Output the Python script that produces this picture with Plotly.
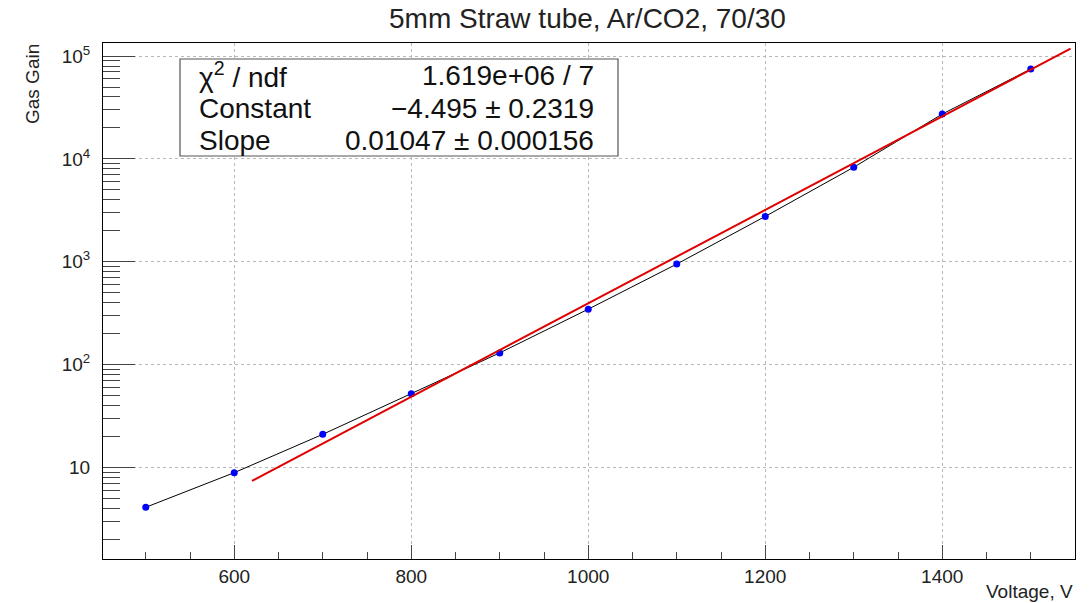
import plotly.graph_objects as go

# ---- data ----
voltage = [500, 600, 700, 800, 900, 1000, 1100, 1200, 1300, 1400, 1500]
gain = [4.1, 8.9, 21, 52, 130, 346, 950, 2760, 8300, 27300, 74800]

fit_x = [620, 1545]
fit_y = [7.4, 118000]

title = "5mm Straw tube, Ar/CO2, 70/30"
x_title = "Voltage, V"
y_title = "Gas Gain"

x_ticks = [600, 800, 1000, 1200, 1400]
y_tickvals = [10, 100, 1000, 10000, 100000]
y_ticktext = ["10", "10<sup>2</sup>", "10<sup>3</sup>", "10<sup>4</sup>", "10<sup>5</sup>"]
y_minor = [m * 10 ** d for d in range(0, 6) for m in range(2, 10)]

stat_labels = ["χ<sup>2</sup> / ndf", "Constant", "Slope"]
stat_values = ["1.619e+06 / 7", "−4.495 ± 0.2319", "0.01047 ± 0.000156"]

FONT = "Liberation Sans, Arial, Helvetica, sans-serif"

# ---- layout geometry (pixels) ----
W, H = 1090, 603
L, R, T, B = 103, 1075, 43, 559


def px(x):
    return (x - L) / (R - L)


def py(y):
    return (B - y) / (B - T)


fig = go.Figure()
fig.add_trace(go.Scatter(
    x=voltage, y=gain, mode="lines+markers",
    line=dict(color="black", width=1),
    marker=dict(color="#0000ff", size=7),
    showlegend=False, hoverinfo="x+y"))
fig.add_trace(go.Scatter(
    x=fit_x, y=fit_y, mode="lines",
    line=dict(color="#e00000", width=2),
    showlegend=False))

axis_common = dict(
    showline=True, linecolor="black", linewidth=1, mirror=True,
    ticks="inside", tickcolor="#444", tickwidth=1,
    showgrid=True, gridcolor="#b8b8b8", griddash="dot", gridwidth=1,
    zeroline=False,
    tickfont=dict(family=FONT, size=19, color="#222"),
)

fig.update_layout(
    width=W, height=H,
    margin=dict(l=L, r=W - R, t=T, b=H - B),
    paper_bgcolor="white", plot_bgcolor="white",
    font=dict(family=FONT, color="#222"),
    xaxis=dict(
        axis_common, range=[451.7, 1550],
        tickmode="array", tickvals=x_ticks, ticklen=14,
        minor=dict(dtick=50, tick0=0, ticks="inside", ticklen=7, tickcolor="#444", showgrid=False),
    ),
    yaxis=dict(
        axis_common, type="log", range=[0.11, 5.127],
        tickmode="array", tickvals=y_tickvals, ticktext=y_ticktext, ticklen=32,
        ticklabelstandoff=8,
        minor=dict(tickmode="array", tickvals=y_minor, ticks="inside", ticklen=17, tickcolor="#444", showgrid=False),
    ),
)

ann = []
# title
ann.append(dict(text=title, x=px(587), y=py(19), xref="paper", yref="paper",
                showarrow=False, xanchor="center", yanchor="middle",
                font=dict(family=FONT, size=28, color="#222")))
# axis titles
ann.append(dict(text=x_title, x=px(1075), y=py(591), xref="paper", yref="paper",
                showarrow=False, xanchor="right", yanchor="middle",
                font=dict(family=FONT, size=19, color="#222")))
ann.append(dict(text=y_title, x=px(32), y=py(84), xref="paper", yref="paper",
                showarrow=False, xanchor="center", yanchor="middle", textangle=-90,
                font=dict(family=FONT, size=19, color="#222")))
# stats box
row_y = [75, 108, 140]
for lab, val, ry in zip(stat_labels, stat_values, row_y):
    ann.append(dict(text=lab, x=px(197), y=py(ry), xref="paper", yref="paper",
                    showarrow=False, xanchor="left", yanchor="middle",
                    font=dict(family=FONT, size=28, color="#111")))
    ann.append(dict(text=val, x=px(596), y=py(ry), xref="paper", yref="paper",
                    showarrow=False, xanchor="right", yanchor="middle",
                    font=dict(family=FONT, size=28, color="#111")))
fig.update_layout(annotations=ann)

fig.add_shape(type="rect", xref="paper", yref="paper",
              x0=px(180), x1=px(618), y0=py(156), y1=py(59),
              line=dict(color="#555", width=1.2), fillcolor="white", layer="above")

fig.write_html("out.html")
